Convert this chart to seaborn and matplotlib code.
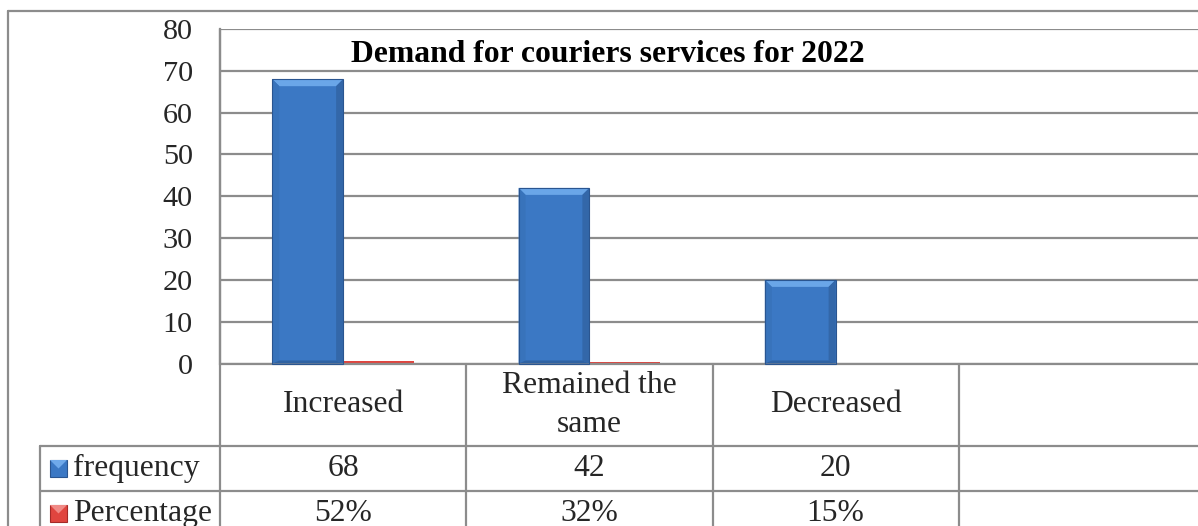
import matplotlib
matplotlib.use("Agg")
import matplotlib.pyplot as plt
import numpy as np
import pandas as pd
import seaborn as sns
from matplotlib.lines import Line2D
from matplotlib.patches import Rectangle, Polygon
from matplotlib.transforms import IdentityTransform, blended_transform_factory

# ---- data -------------------------------------------------------------
categories = ["Increased", "Remained the same", "Decreased"]
category_labels = ["Increased", "Remained the\nsame", "Decreased"]
series_names = ["frequency", "Percentage"]
frequency = [68, 42, 20]
percentage = [52, 32, 15]          # percent of respondents
y_ticks = [0, 10, 20, 30, 40, 50, 60, 70, 80]
title = "Demand for couriers services for 2022"

# ---- style ------------------------------------------------------------
sns.set_style("white")
plt.rcParams["font.family"] = ["Liberation Serif", "DejaVu Serif"]

BLUE = "#3b78c4"
RED = "#e0453f"
GRID = "#8c8c8c"
TXT = 22.8

W, H = 1198, 526
fig = plt.figure(figsize=(W / 100, H / 100), dpi=100)


def fx(px):
    return px / W


def fy(py):
    return 1 - py / H


plot_left, plot_top, plot_bottom, plot_right = 220, 29, 363.5, 1205
ax = fig.add_axes([fx(plot_left), fy(plot_bottom),
                   (plot_right - plot_left) / W, (plot_bottom - plot_top) / H])

df = pd.DataFrame({
    "category": categories * 2,
    "series": [series_names[0]] * len(categories) + [series_names[1]] * len(categories),
    "value": frequency + [p / 100 for p in percentage],
})

sns.barplot(data=df, x="category", y="value", hue="series",
            order=categories, hue_order=series_names,
            palette=[BLUE, RED], saturation=1, width=0.575, gap=0,
            errorbar=None, legend=False, linewidth=0, ax=ax)

ax.set_xlim(-0.5, len(categories) + 0.5)
ax.set_ylim(0, 80)
ax.set_yticks(y_ticks)
ax.set_yticklabels([str(t) for t in y_ticks], fontsize=21.8)
ax.set_xticks([])
ax.set_xlabel("")
ax.set_ylabel("")
ax.tick_params(axis="y", length=0, pad=19.5)
ax.yaxis.grid(True, color=GRID, linewidth=1.6)
ax.set_axisbelow(True)
for side in ["top", "right", "bottom"]:
    ax.spines[side].set_visible(False)
ax.spines["left"].set_color(GRID)
ax.spines["left"].set_linewidth(1.6)

# ---- bevelled look on the frequency bars --------------------------------
fig.canvas.draw()
bevel = 7
for patch in ax.patches:
    if patch.get_height() < 5:
        continue
    x, w, h = patch.get_x(), patch.get_width(), patch.get_height()
    (x0, y0), (x1, y1) = ax.transData.transform([(x, 0), (x + w, h)])
    faces = [
        ([(x0, y1), (x1, y1), (x1 - bevel, y1 - bevel), (x0 + bevel, y1 - bevel)], "#6aa6e8"),
        ([(x0, y0), (x0, y1), (x0 + bevel, y1 - bevel), (x0 + bevel, y0 + 3)], "#3873bb"),
        ([(x1, y0), (x1, y1), (x1 - bevel, y1 - bevel), (x1 - bevel, y0 + 3)], "#3367a9"),
        ([(x0, y0), (x1, y0), (x1 - bevel, y0 + 3), (x0 + bevel, y0 + 3)], "#2f62a2"),
    ]
    for pts, col in faces:
        fig.add_artist(Polygon(pts, closed=True, facecolor=col, edgecolor="none",
                               transform=IdentityTransform(), zorder=3))
    fig.add_artist(Rectangle((x0, y0), x1 - x0, y1 - y0, facecolor="none",
                             edgecolor="#2a5590", linewidth=0.8,
                             transform=IdentityTransform(), zorder=4))

# ---- title --------------------------------------------------------------
fig.text(fx(608), fy(62), title, ha="center", va="baseline",
         fontsize=TXT, fontweight="bold", color="black")

# ---- outer chart frame ----------------------------------------------------
def hline(y, xa, xb):
    fig.add_artist(Line2D([fx(xa), fx(xb)], [fy(y), fy(y)], color=GRID, linewidth=1.6))


def vline(x, ya, yb):
    fig.add_artist(Line2D([fx(x), fx(x)], [fy(ya), fy(yb)], color=GRID, linewidth=1.6))


hline(11, 7.5, W + 5)
vline(7.5, 11, H + 5)

# ---- data table under the plot ------------------------------------------
row_edges = [plot_bottom, 446, 491, 536]
table_left = 40
hline(row_edges[1], table_left, W + 5)
hline(row_edges[2], table_left, W + 5)
vline(table_left, row_edges[1], H + 5)
vline(plot_left, plot_top, H + 5)
hline(plot_bottom, plot_left, W + 5)

col_tr = blended_transform_factory(ax.transData, fig.transFigure)
for b in np.arange(0.5, len(categories) + 0.5, 1.0):
    fig.add_artist(Line2D([b, b], [fy(plot_bottom), fy(H + 5)], color=GRID,
                          linewidth=1.6, transform=col_tr))

row_mid = [(row_edges[i] + row_edges[i + 1]) / 2 for i in range(3)]
for i, lab in enumerate(category_labels):
    fig.text(i, fy(row_mid[0]), lab, transform=col_tr, ha="center", va="center",
             fontsize=TXT, linespacing=1.45)
    fig.text(i, fy(row_mid[1]), str(frequency[i]), transform=col_tr,
             ha="center", va="center", fontsize=TXT)
    fig.text(i, fy(row_mid[2]), f"{percentage[i]}%", transform=col_tr,
             ha="center", va="center", fontsize=TXT)

# row headers with small colour keys
key_dark = {series_names[0]: "#2a5590", series_names[1]: "#a42a28"}
key_light = {series_names[0]: "#6fa9ea", series_names[1]: "#f08a86"}
for name, col, ymid in [(series_names[0], BLUE, row_mid[1]), (series_names[1], RED, row_mid[2])]:
    fig.add_artist(Rectangle((fx(50), fy(ymid + 8.5)), fx(17), 17 / H,
                             facecolor=col, edgecolor=key_dark[name], linewidth=0.8))
    fig.add_artist(Polygon([(fx(50), fy(ymid - 8.5)), (fx(67), fy(ymid - 8.5)),
                            (fx(58.5), fy(ymid))], closed=True,
                           facecolor=key_light[name], edgecolor="none"))
    fig.text(fx(73), fy(ymid), name, ha="left", va="center", fontsize=TXT)

fig.savefig("out.png", dpi=100)
